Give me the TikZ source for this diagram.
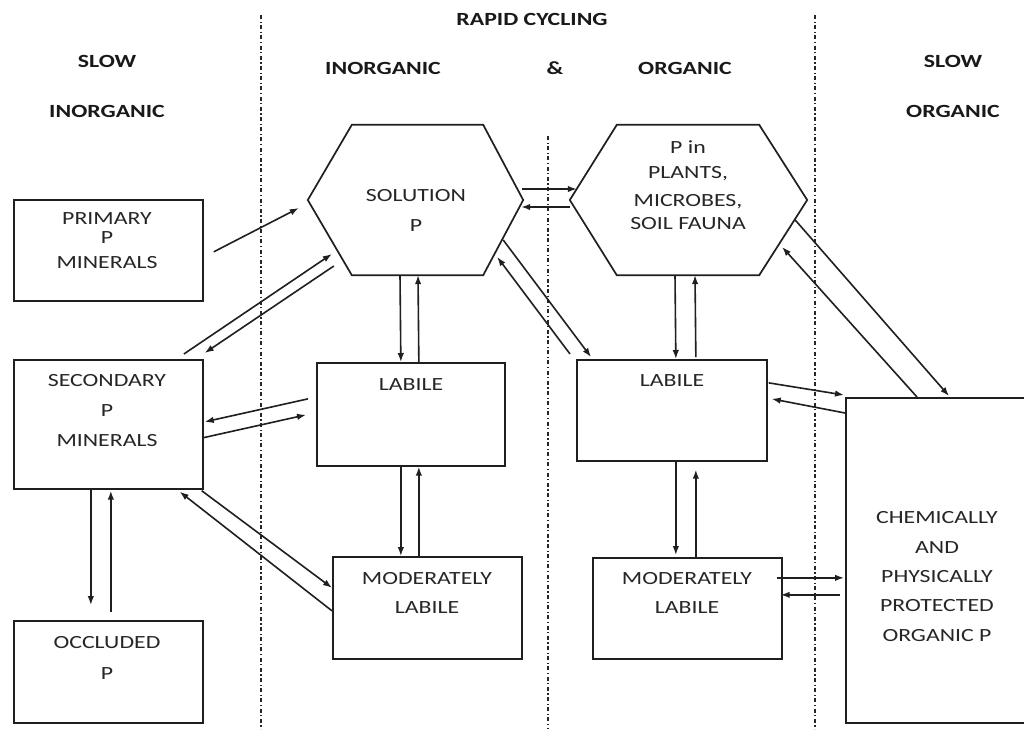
\documentclass[tikz,border=0pt]{standalone}
\usepackage{fontspec}
\setmainfont{Carlito}[FakeStretch=1.28]
\usetikzlibrary{arrows.meta,calc}
\begin{document}
\begin{tikzpicture}[x=1pt,y=-1pt,
  box/.style={draw=black!88, line width=1.7pt, anchor=north west, inner sep=0pt},
  hexa/.style={inner sep=0pt, anchor=center},
  hexline/.style={draw=black!88, line width=1.7pt, line join=miter},
  txt/.style={anchor=base, inner sep=0pt, text=black!85, font=\fontsize{18.6}{22}\selectfont},
  hdr/.style={anchor=base, inner sep=0pt, text=black!90, font=\fontsize{18.6}{22}\selectfont\bfseries},
  divider/.style={draw=black!85, line width=1.4pt, dash pattern=on 4pt off 2.5pt on 1.2pt off 2.5pt},
  arr/.style={-{Latex[length=9pt,width=6.5pt]}, line width=1.6pt, draw=black!88}]
\path[use as bounding box] (0,0) rectangle (1024,729);
\clip (0,0) rectangle (1024,729);
\fill[white] (0,0) rectangle (1024,729);

% dividers
\draw[divider] (261,15) -- (261,729);
\draw[divider] (548,136) -- (548,729);
\draw[divider] (815,15) -- (815,729);

% headers
\node[hdr] (hrapid) at (532,25) {RAPID CYCLING};
\node[hdr] (hslow1) at (107,67) {SLOW};
\node[hdr] (hinorg1) at (107,117) {INORGANIC};
\node[hdr] (hinorg2) at (383,74) {INORGANIC};
\node[hdr] (hamp) at (555,74) {\&};
\node[hdr] (horg1) at (685,74) {ORGANIC};
\node[hdr] (hslow2) at (953,67) {SLOW};
\node[hdr] (horg2) at (953,117) {ORGANIC};

% boxes
\node[box, minimum width=189pt, minimum height=101pt] (prim) at (13,199) {};
\node[box, minimum width=189pt, minimum height=129pt] (sec) at (13,359) {};
\node[box, minimum width=189pt, minimum height=102pt] (occ) at (13,620) {};
\node[box, minimum width=188pt, minimum height=103pt] (labI) at (316,362) {};
\node[box, minimum width=189pt, minimum height=102pt] (modI) at (332,556) {};
\node[box, minimum width=190pt, minimum height=101pt] (labO) at (576,359) {};
\node[box, minimum width=189pt, minimum height=101pt] (modO) at (592,557) {};
\node[box, minimum width=200pt, minimum height=325pt] (chem) at (845,397) {};

% hexagons
\node[hexa, minimum width=215pt, minimum height=150pt] (sol) at (415.5,200) {};
\draw[hexline] (sol.west) -- ($(sol.north west)+(44,0)$) -- ($(sol.north east)+(-40,0)$)
  -- (sol.east) -- ($(sol.south east)+(-40,0)$) -- ($(sol.south west)+(44,0)$) -- cycle;
\node[hexa, minimum width=237pt, minimum height=150pt] (pl) at (688.5,200) {};
\draw[hexline] (pl.west) -- ($(pl.north west)+(47,0)$) -- ($(pl.north east)+(-48,0)$)
  -- (pl.east) -- ($(pl.south east)+(-48,0)$) -- ($(pl.south west)+(47,0)$) -- cycle;

% box texts
\node[txt] (t1a) at (107,224) {PRIMARY};
\node[txt] (t1b) at (107,243) {P};
\node[txt] (t1c) at (107,268) {MINERALS};
\node[txt] (t2a) at (107,386) {SECONDARY};
\node[txt] (t2b) at (107,416) {P};
\node[txt] (t2c) at (107,446) {MINERALS};
\node[txt] (t3a) at (107,648) {OCCLUDED};
\node[txt] (t3b) at (107,679) {P};
\node[txt] (t4a) at (411,390) {LABILE};
\node[txt] (t5a) at (427,584) {MODERATELY};
\node[txt] (t5b) at (427,613) {LABILE};
\node[txt] (t6a) at (416,201) {SOLUTION};
\node[txt] (t6b) at (416,231) {P};
\node[txt] (t7a) at (688,153) {P in};
\node[txt] (t7b) at (688,178) {PLANTS,};
\node[txt] (t7c) at (688,206) {MICROBES,};
\node[txt] (t7d) at (688,229) {SOIL FAUNA};
\node[txt] (t8a) at (672,386) {LABILE};
\node[txt] (t9a) at (687,584) {MODERATELY};
\node[txt] (t9b) at (687,613) {LABILE};
\node[txt] (t10a) at (937,523) {CHEMICALLY};
\node[txt] (t10b) at (937,553) {AND};
\node[txt] (t10c) at (937,582) {PHYSICALLY};
\node[txt] (t10d) at (937,611) {PROTECTED};
\node[txt] (t10e) at (937,641) {ORGANIC P};

% arrows
\draw[arr] ($(prim.east)+(10,1.5)$) -- ($(sol.west)+(-9,8)$);
\draw[arr] ($(sec.north)+(75.5,-5)$) -- ($(sol.west)+(24,54)$);
\draw[arr] ($(sol.west)+(26,66)$) -- ($(sec.north east)+(1,-6)$);
\draw[arr] ($(sol.south)+(-15.5,0)$) -- ($(labI.north)+(-10,0)$);
\draw[arr] ($(labI.north)+(8,0)$) -- ($(sol.south)+(2.5,0)$);
\draw[arr] ($(labI.west)+(-8,-15.5)$) -- ($(sec.east)+(1,-2.5)$);
\draw[arr] ($(sec.east)+(-1,13.5)$) -- ($(labI.west)+(-10,0.5)$);
\draw[arr] ($(labI.south)+(-10,0)$) -- ($(modI.north)+(-26.5,0)$);
\draw[arr] ($(modI.north)+(-8.5,0)$) -- ($(labI.south)+(8,0)$);
\draw[arr] ($(sec.south east)+(-2,1)$) -- ($(modI.west)+(0,-20)$);
\draw[arr] ($(modI.west)+(0,3)$) -- ($(sec.south east)+(-24,2)$);
\draw[arr] ($(sec.south)+(-17.5,0)$) -- ($(occ.north)+(-17.5,-15)$);
\draw[arr] ($(occ.north)+(2.5,-8)$) -- ($(sec.south)+(2.5,1)$);
\draw[arr] ($(sol.east)+(-1,-11)$) -- ($(pl.west)+(7,-11)$);
\draw[arr] ($(pl.west)+(0,7)$) -- ($(sol.east)+(-2,7)$);
\draw[arr] ($(sol.east)+(-20,40)$) -- ($(labO.north west)+(15,-2)$);
\draw[arr] ($(labO.north west)+(-6,-5)$) -- ($(sol.east)+(-26,57)$);
\draw[arr] ($(pl.south)+(-13.5,0)$) -- ($(labO.north)+(4,0)$);
\draw[arr] ($(labO.north)+(24,-2)$) -- ($(pl.south)+(6.5,0)$);
\draw[arr] ($(labO.south)+(4,0)$) -- ($(modO.north)+(-11.5,-2)$);
\draw[arr] ($(modO.north)+(8.5,0)$) -- ($(labO.south)+(24,8)$);
\draw[arr] ($(pl.east)+(-12,20)$) -- ($(chem.north west)+(104,-1)$);
\draw[arr] ($(chem.north west)+(72,0)$) -- ($(pl.east)+(-25,47)$);
\draw[arr] ($(labO.east)+(1,-27.5)$) -- ($(chem.north west)+(-1,-2)$);
\draw[arr] ($(chem.north west)+(0,16)$) -- ($(labO.east)+(4,-11.5)$);
\draw[arr] ($(modO.east)+(-6,-30.5)$) -- ($(chem.west)+(-1,17.5)$);
\draw[arr] ($(chem.west)+(-5,34.5)$) -- ($(modO.east)+(-2,-13.5)$);
\end{tikzpicture}
\end{document}
